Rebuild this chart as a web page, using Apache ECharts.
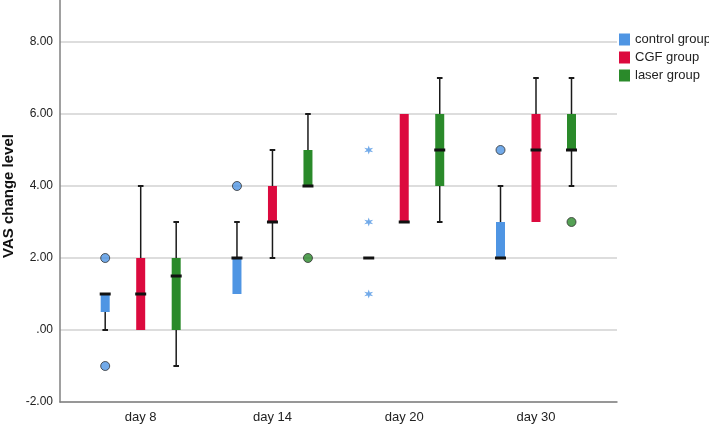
<!DOCTYPE html>
<html>
<head>
<meta charset="utf-8">
<script src="https://cdn.jsdelivr.net/npm/echarts@6/dist/echarts.min.js"></script>
<style>
html,body{margin:0;padding:0;background:#fff;}
#chart{width:709px;height:428px;}
</style>
</head>
<body>
<div id="chart"></div>
<script>
// ---- data ----
var categories = ['day 8', 'day 14', 'day 20', 'day 30'];
var groupNames = ['control group', 'CGF group', 'laser group'];
var yTicks = [-2, 0, 2, 4, 6, 8];
// [min, Q1, median, Q3, max] per category
var controlBox = [[0, 0.5, 1, 1, 1], [1, 1, 2, 2, 3], [2, 2, 2, 2, 2], [2, 2, 2, 3, 4]];
var cgfBox     = [[0, 0, 1, 2, 4], [2, 3, 3, 4, 5], [3, 3, 3, 6, 6], [3, 3, 5, 6, 7]];
var laserBox   = [[-1, 0, 1.5, 2, 3], [4, 4, 4, 5, 6], [3, 4, 5, 6, 7], [4, 5, 5, 6, 7]];
// outliers: [categoryIndex, value]
var controlOutliers = [[0, 2], [0, -1], [1, 4], [3, 5]];
var laserOutliers   = [[1, 2], [3, 3]];
// extreme values (stars)
var controlExtremes = [[2, 5], [2, 3], [2, 1]];

// ---- styling ----
var colors = ['#4f95e3', '#dc0a3e', '#2a8a2a'];
var offsets = [-0.2694, 0, 0.2694];
var FONT = 'Liberation Sans, Arial, sans-serif';

function boxData(arr, gi) {
  return arr.map(function (d, i) {
    return [i + 1 + offsets[gi]].concat(d);
  });
}
function pointData(arr, gi) {
  return arr.map(function (d) { return [d[0] + 1 + offsets[gi], d[1]]; });
}

function renderBox(color) {
  return function (params, api) {
    var x = api.value(0);
    var pMin = api.coord([x, api.value(1)]);
    var pQ1 = api.coord([x, api.value(2)]);
    var pMed = api.coord([x, api.value(3)]);
    var pQ3 = api.coord([x, api.value(4)]);
    var pMax = api.coord([x, api.value(5)]);
    var cx = pMin[0];
    var hw = 4.5, cap = 2.8, mw = 5.5;
    var children = [];
    var wStyle = { stroke: '#1a1a1a', lineWidth: 1.5 };
    if (pMax[1] < pQ3[1]) {
      children.push({ type: 'line', shape: { x1: cx, y1: pMax[1], x2: cx, y2: pQ3[1] }, style: wStyle });
      children.push({ type: 'line', shape: { x1: cx - cap, y1: pMax[1], x2: cx + cap, y2: pMax[1] }, style: { stroke: '#1a1a1a', lineWidth: 2 } });
    }
    if (pMin[1] > pQ1[1]) {
      children.push({ type: 'line', shape: { x1: cx, y1: pQ1[1], x2: cx, y2: pMin[1] }, style: wStyle });
      children.push({ type: 'line', shape: { x1: cx - cap, y1: pMin[1], x2: cx + cap, y2: pMin[1] }, style: { stroke: '#1a1a1a', lineWidth: 2 } });
    }
    children.push({ type: 'rect', shape: { x: cx - hw, y: pQ3[1], width: hw * 2, height: pQ1[1] - pQ3[1] }, style: { fill: color } });
    children.push({ type: 'line', shape: { x1: cx - mw, y1: pMed[1], x2: cx + mw, y2: pMed[1] }, style: { stroke: '#111', lineWidth: 3 } });
    return { type: 'group', children: children };
  };
}

var starPath = 'path://M0 -10 L2 -3.46 L8.66 -5 L4 0 L8.66 5 L2 3.46 L0 10 L-2 3.46 L-8.66 5 L-4 0 L-8.66 -5 L-2 -3.46 Z';

var boxes = [controlBox, cgfBox, laserBox];
var series = boxes.map(function (arr, gi) {
  return {
    name: groupNames[gi],
    type: 'custom',
    itemStyle: { color: colors[gi] },
    renderItem: renderBox(colors[gi]),
    encode: { x: 0, y: [1, 2, 3, 4, 5] },
    data: boxData(arr, gi),
    z: 3
  };
});
series.push({
  name: 'control outliers', type: 'scatter', symbol: 'circle', symbolSize: 9,
  itemStyle: { color: colors[0], borderColor: '#333', borderWidth: 1 },
  data: pointData(controlOutliers, 0), z: 4
});
series.push({
  name: 'laser outliers', type: 'scatter', symbol: 'circle', symbolSize: 9,
  itemStyle: { color: colors[2], borderColor: '#333', borderWidth: 1 },
  data: pointData(laserOutliers, 2), z: 4
});
series.push({
  name: 'control extremes', type: 'scatter', symbol: starPath, symbolSize: 9,
  itemStyle: { color: colors[0] },
  data: pointData(controlExtremes, 0), z: 4
});

var chart = echarts.init(document.getElementById('chart'), null, { renderer: 'canvas' });
chart.setOption({
  animation: false,
  backgroundColor: '#fff',
  grid: { left: 60, right: 92, top: 0, bottom: 26, containLabel: false, outerBoundsMode: 'none' },
  legend: {
    data: groupNames.map(function (n) { return { name: n, icon: 'rect' }; }),
    orient: 'vertical', left: 619, top: 33, padding: 0,
    itemWidth: 11, itemHeight: 12, itemGap: 5,
    textStyle: { fontFamily: FONT, fontSize: 13, color: '#222' },
    selectedMode: false
  },
  xAxis: {
    type: 'value', min: 0.3876, max: 4.6147,
    axisLine: { show: true, onZero: false, lineStyle: { color: '#808080', width: 1.5 } },
    axisTick: { show: false },
    splitLine: { show: false },
    axisLabel: {
      customValues: [1, 2, 3, 4],
      formatter: function (v) { return categories[Math.round(v) - 1] || ''; },
      fontFamily: FONT, fontSize: 13, color: '#222', margin: 9
    }
  },
  yAxis: {
    type: 'value', min: -2, max: 9.1667, interval: 2,
    name: 'VAS change level', nameLocation: 'middle', nameGap: 44, nameRotate: 90,
    nameMoveOverlap: false,
    nameTextStyle: { fontFamily: FONT, fontSize: 15, fontWeight: 'bold', color: '#111', padding: [0, 0, 0, 10] },
    axisLine: { show: true, onZero: false, lineStyle: { color: '#808080', width: 1.5 } },
    axisTick: { show: false, customValues: yTicks },
    splitLine: { show: true, lineStyle: { color: '#d2d2d2', width: 1.5 } },
    axisLabel: {
      customValues: yTicks,
      formatter: function (v) { return v === 0 ? '.00' : v.toFixed(2); },
      fontFamily: FONT, fontSize: 12, color: '#222', margin: 7
    }
  },
  series: series
});
</script>
</body>
</html>
